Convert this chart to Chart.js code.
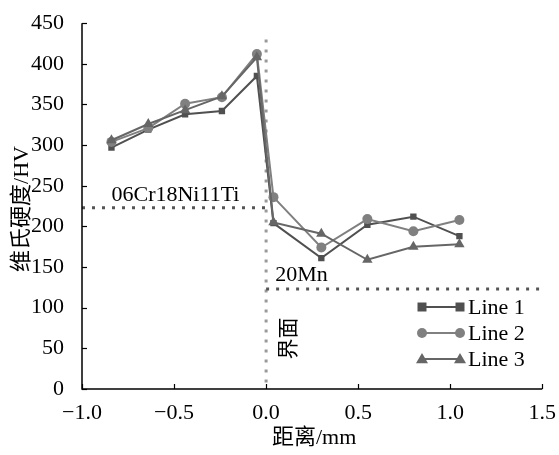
<!DOCTYPE html>
<html><head><meta charset="utf-8">
<script src="https://cdn.jsdelivr.net/npm/chart.js@4.4.0/dist/chart.umd.min.js"></script>
<style>html,body{margin:0;padding:0;background:#fff}#wrap{width:559px;height:455px}</style>
</head><body><div id="wrap"><canvas id="c" width="559" height="455"></canvas></div>
<script>
const distances = [-0.84, -0.64, -0.44, -0.24, -0.05, 0.04, 0.3, 0.55, 0.8, 1.05];
const line1 = [297, 319, 338, 342, 385, 204, 161, 202, 212, 188];
const line2 = [304, 321, 351, 359, 412, 236, 174, 209, 194, 208];
const line3 = [306, 326, 343, 360, 408, 205, 191, 159, 175, 178];
const seriesNames = ['Line 1', 'Line 2', 'Line 3'];
const xTicks = [-1.0, -0.5, 0.0, 0.5, 1.0, 1.5];
const yTicks = [0, 50, 100, 150, 200, 250, 300, 350, 400, 450];
const leftRefLevel = 223;   // 06Cr18Ni11Ti
const rightRefLevel = 123;  // 20Mn
const interfaceX = 0;
const interfaceTop = 430;

const SERIF = '"Liberation Serif", "Noto Sans CJK SC", serif';
const pts = arr => distances.map((x, i) => ({x, y: arr[i]}));

const styles = [
  {color: '#505050', shape: 'rect', r: 4.5},
  {color: '#808080', shape: 'circle', r: 5},
  {color: '#666666', shape: 'triangle', r: 6}
];

const datasets = [line1, line2, line3].map((arr, i) => ({
  label: seriesNames[i],
  data: pts(arr),
  borderColor: styles[i].color,
  backgroundColor: styles[i].color,
  borderWidth: 2,
  pointStyle: styles[i].shape,
  pointRadius: styles[i].r,
  pointBorderWidth: 0,
  tension: 0,
  order: 3 - i
}));

datasets.push({
  label: 'ref1', data: [{x: xTicks[0], y: leftRefLevel}, {x: interfaceX, y: leftRefLevel}],
  borderColor: '#555', borderWidth: 3, borderDash: [3, 7], pointRadius: 0, order: 10
});
datasets.push({
  label: 'ref2', data: [{x: interfaceX, y: rightRefLevel}, {x: xTicks[xTicks.length - 1], y: rightRefLevel}],
  borderColor: '#555', borderWidth: 3, borderDash: [3, 7], pointRadius: 0, order: 10
});
datasets.push({
  label: 'iface', data: [{x: interfaceX, y: interfaceTop}, {x: interfaceX, y: 0}],
  borderColor: '#999', borderWidth: 3, borderDash: [3, 7], pointRadius: 0, order: 10
});

const decor = {
  id: 'decor',
  afterDraw(chart) {
    const ctx = chart.ctx, xs = chart.scales.x, ys = chart.scales.y;
    const ca = chart.chartArea;
    ctx.save();
    ctx.strokeStyle = '#000'; ctx.lineWidth = 1.5;
    ctx.beginPath();
    ctx.moveTo(ca.left, ca.top); ctx.lineTo(ca.left, ca.bottom); ctx.lineTo(ca.right, ca.bottom);
    ctx.stroke();
    ctx.lineWidth = 1.2;
    yTicks.forEach(v => { const y = Math.round(ys.getPixelForValue(v)) + 0.5; ctx.beginPath(); ctx.moveTo(ca.left, y); ctx.lineTo(ca.left + 5, y); ctx.stroke(); });
    xTicks.forEach(v => { const x = Math.round(xs.getPixelForValue(v)) + 0.5; ctx.beginPath(); ctx.moveTo(x, ca.bottom); ctx.lineTo(x, ca.bottom - 5); ctx.stroke(); });
    ctx.fillStyle = '#000';
    ctx.font = '22px ' + SERIF;
    ctx.textAlign = 'center'; ctx.textBaseline = 'middle';
    ctx.fillText('距离/mm', (ca.left + ca.right) / 2 + 2, 438);
    ctx.save();
    ctx.translate(22, 209); ctx.rotate(-Math.PI / 2);
    ctx.fillText('维氏硬度/HV', 0, 0);
    ctx.restore();
    ctx.font = '22px ' + SERIF;
    ctx.textAlign = 'left';
    ctx.fillText('06Cr18Ni11Ti', xs.getPixelForValue(-0.84), ys.getPixelForValue(leftRefLevel) - 13);
    ctx.fillText('20Mn', xs.getPixelForValue(0.05), ys.getPixelForValue(rightRefLevel) - 14);
    ctx.save();
    ctx.translate(xs.getPixelForValue(0.125), ys.getPixelForValue(62)); ctx.rotate(-Math.PI / 2);
    ctx.textAlign = 'center';
    ctx.font = '21px ' + SERIF;
    ctx.fillText('界面', 0, 0);
    ctx.restore();
    const lx0 = 422, lx1 = 460, ly = [307, 333, 359];
    for (let i = 0; i < 3; i++) {
      const st = styles[i];
      ctx.strokeStyle = st.color; ctx.fillStyle = st.color; ctx.lineWidth = 2;
      ctx.beginPath(); ctx.moveTo(lx0, ly[i]); ctx.lineTo(lx1, ly[i]); ctx.stroke();
      [lx0, lx1].forEach(px => {
        ctx.beginPath();
        if (st.shape === 'rect') ctx.rect(px - st.r, ly[i] - st.r, 2 * st.r, 2 * st.r);
        else if (st.shape === 'circle') ctx.arc(px, ly[i], st.r, 0, Math.PI * 2);
        else { ctx.moveTo(px, ly[i] - st.r); ctx.lineTo(px + st.r, ly[i] + st.r * 0.7); ctx.lineTo(px - st.r, ly[i] + st.r * 0.7); ctx.closePath(); }
        ctx.fill();
      });
      ctx.fillStyle = '#000'; ctx.font = '22px ' + SERIF; ctx.textAlign = 'left'; ctx.textBaseline = 'middle';
      ctx.fillText(seriesNames[i], 468, ly[i] + 1);
    }
    ctx.restore();
  }
};

new Chart(document.getElementById('c'), {
  type: 'line',
  data: {datasets},
  options: {
    responsive: false, animation: false,
    layout: {padding: {top: 19, right: 16, left: 0, bottom: 0}},
    plugins: {legend: {display: false}, tooltip: {enabled: false}},
    scales: {
      x: {
        type: 'linear', min: -1, max: 1.5,
        afterBuildTicks: s => { s.ticks = xTicks.map(v => ({value: v})); },
        afterFit: s => { s.height = 66; },
        border: {display: false},
        grid: {display: false},
        ticks: {color: '#000', font: {family: SERIF, size: 22}, padding: 3, maxRotation: 0,
          callback: v => (v < 0 ? '\u2212' : '') + Math.abs(v).toFixed(1)}
      },
      y: {
        min: 0, max: 450,
        afterBuildTicks: s => { s.ticks = yTicks.map(v => ({value: v})); },
        afterFit: s => { s.width = 82; },
        border: {display: false},
        grid: {display: false},
        ticks: {color: '#000', font: {family: SERIF, size: 22}, padding: 10}
      }
    }
  },
  plugins: [decor]
});
</script></body></html>
